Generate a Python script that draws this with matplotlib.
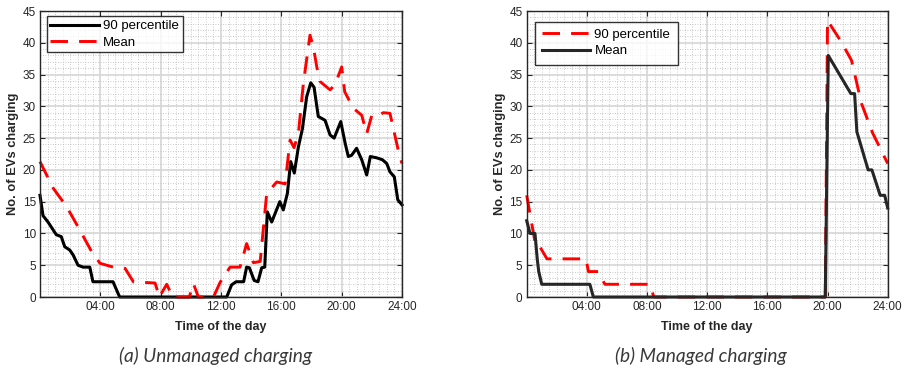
import numpy as np
import matplotlib
matplotlib.use('Agg')
import matplotlib.pyplot as plt
from matplotlib.ticker import MultipleLocator, FixedLocator, FuncFormatter

plt.rcParams['font.family'] = ['Liberation Sans', 'DejaVu Sans']

# (a) unmanaged charging, hours of the day
t_a90 = [0, 0.2, 0.53, 0.86, 1.08, 1.41, 1.64, 1.97, 2.2, 2.52,
         2.85, 3.3, 3.51, 4.84, 5.28, 12.38, 12.7, 13.0, 13.5, 13.7,
         13.88, 14.2, 14.45, 14.7, 14.9, 15.07, 15.36, 15.58, 15.9, 16.13,
         16.4, 16.62, 16.86, 17.13, 17.4, 17.68, 17.95, 18.17, 18.45, 18.68,
         18.9, 19.23, 19.5, 19.94, 20.23, 20.44, 20.66, 20.99, 21.33, 21.66,
         21.9, 22.32, 22.7, 22.99, 23.2, 23.49, 23.72, 24.0]
v_a90 = [16.0, 12.8, 11.8, 10.6, 9.8, 9.5, 7.9, 7.4, 6.6, 5.0,
         4.7, 4.7, 2.4, 2.4, 0, 0, 1.9, 2.4, 2.4, 4.7,
         4.6, 2.6, 2.4, 4.6, 4.7, 13.4, 11.8, 13.1, 15.0, 13.7,
         16.3, 21.3, 19.5, 23.6, 26.5, 31.5, 33.7, 33.0, 28.4, 28.1,
         27.8, 25.5, 25.0, 27.6, 24.2, 22.1, 22.3, 23.4, 21.6, 19.2,
         22.1, 21.9, 21.6, 21.0, 19.7, 18.9, 15.3, 14.5]

t_amean = [0, 0.88, 1.77, 2.65, 3.43, 3.98, 4.86, 5.64, 6.19, 6.85,
           7.63, 7.91, 8.4, 8.8, 9.9, 10.17, 10.5, 11.5, 11.94, 12.6,
           13.26, 13.7, 14.15, 14.6, 15.03, 15.7, 16.25, 16.58, 16.84, 17.13,
           17.46, 17.9, 18.12, 18.35, 18.57, 19.23, 19.56, 20.0, 20.2, 20.77,
           21.33, 21.66, 22.0, 22.3, 22.76, 23.2, 23.77, 24.0]
v_amean = [21.3, 17.1, 14.2, 10.5, 7.1, 5.3, 4.7, 4.5, 2.4, 2.3,
           2.2, 0, 2.0, 0, 0, 2.1, 0, 0, 2.3, 4.7,
           4.7, 8.4, 5.4, 5.6, 16.3, 18.1, 17.8, 24.7, 23.5, 25.7,
           33.6, 41.2, 39.4, 36.2, 33.9, 32.6, 33.4, 36.2, 32.3, 29.7,
           28.6, 25.7, 28.6, 28.4, 29.0, 28.9, 22.9, 21.0]

# (b) managed charging
t_b90 = [0, 0.6, 0.85, 1.35, 1.6, 3.95, 4.1, 4.75, 5.2, 8.2, 8.45,
         19.85, 20.0, 20.9, 21.6, 22.25, 23.0, 24.0]
v_b90 = [16, 8, 8, 6, 6, 6, 4, 4, 2, 2, 0,
         0, 43.5, 40.2, 37.2, 30.5, 25.8, 21.0]

t_bmean = [0, 0.22, 0.55, 0.7, 0.8, 1.0, 4.2, 4.43,
           19.85, 20.05, 21.55, 21.8, 21.95, 22.7, 22.95, 23.5, 23.8, 24.0]
v_bmean = [12, 10, 10, 6, 4, 2, 2, 0,
           0, 38, 32, 32, 26, 20, 20, 16, 16, 14]

hour_ticks = [4, 8, 12, 16, 20, 24]
captions = ['(a) Unmanaged charging', '(b) Managed charging']

RED = '#ff0000'
DASH = (0, (6.0, 3.8))
TXT = '#262626'

fig = plt.figure(figsize=(9.07, 3.72), dpi=100)
ax_a = fig.add_axes([40 / 907, 75 / 372, 362 / 907, 286 / 372])
ax_b = fig.add_axes([526.7 / 907, 75 / 372, 361 / 907, 286 / 372])


def style_axes(ax):
    ax.set_xlim(0, 24)
    ax.set_ylim(0, 45)
    ax.xaxis.set_major_locator(FixedLocator(hour_ticks))
    ax.xaxis.set_major_formatter(FuncFormatter(lambda v, p: '%02d:00' % int(v)))
    ax.yaxis.set_major_locator(MultipleLocator(5))
    ax.xaxis.set_minor_locator(MultipleLocator(0.5))
    ax.yaxis.set_minor_locator(MultipleLocator(1))
    ax.grid(True, which='major', color='#d6d6d6', lw=1.2)
    ax.grid(True, which='minor', color='#b9b9b9', lw=0.6, ls=(0, (1, 2)))
    ax.set_axisbelow(True)
    ax.tick_params(which='major', direction='in', length=3.5, width=0.8,
                   top=True, right=True, labelsize=8.5, colors=TXT, pad=3)
    ax.tick_params(which='minor', length=0)
    for s in ax.spines.values():
        s.set_color(TXT)
        s.set_linewidth(1.0)
    ax.set_xlabel('Time of the day', fontsize=9, fontweight='bold', color=TXT)
    ax.set_ylabel('No. of EVs charging', fontsize=9.3, fontweight='bold', color=TXT)
    ax.xaxis.set_label_coords(0.5, -0.085)
    ax.yaxis.set_label_coords(-0.057, 0.5)


# unmanaged
ax_a.plot(t_a90, v_a90, color='black', lw=2.2, label='90 percentile', clip_on=False)
ax_a.plot(t_amean, v_amean, color=RED, lw=2.1, ls=DASH, label='Mean', clip_on=False)
style_axes(ax_a)
leg = ax_a.legend(loc='upper left', bbox_to_anchor=(0.018, 0.982), fontsize=9.5,
                  frameon=True, fancybox=False, handlelength=3.7, handletextpad=0.3,
                  labelspacing=0.3, borderpad=0.3, borderaxespad=0)
leg.get_frame().set_edgecolor('black')
leg.get_frame().set_linewidth(1.0)

# managed
ax_b.plot(t_b90, v_b90, color=RED, lw=2.1, ls=DASH, label='90 percentile', clip_on=False)
ax_b.plot(t_bmean, v_bmean, color='#262626', lw=2.2, label='Mean', clip_on=False)
style_axes(ax_b)
leg = ax_b.legend(loc='upper left', bbox_to_anchor=(0.023, 0.963), fontsize=9.5,
                  frameon=True, fancybox=False, handlelength=3.6, handletextpad=0.35,
                  labelspacing=0.3, borderpad=0.55, borderaxespad=0)
leg.get_frame().set_edgecolor('black')
leg.get_frame().set_linewidth(1.0)

fig.text(216 / 907, 0.043, captions[0], family='Lato', style='italic',
         fontsize=13.8, color='#3a3a3a', ha='center', va='center')
fig.text(701 / 907, 0.043, captions[1], family='Lato', style='italic',
         fontsize=13.8, color='#3a3a3a', ha='center', va='center')

fig.savefig('out.png', dpi=100)
